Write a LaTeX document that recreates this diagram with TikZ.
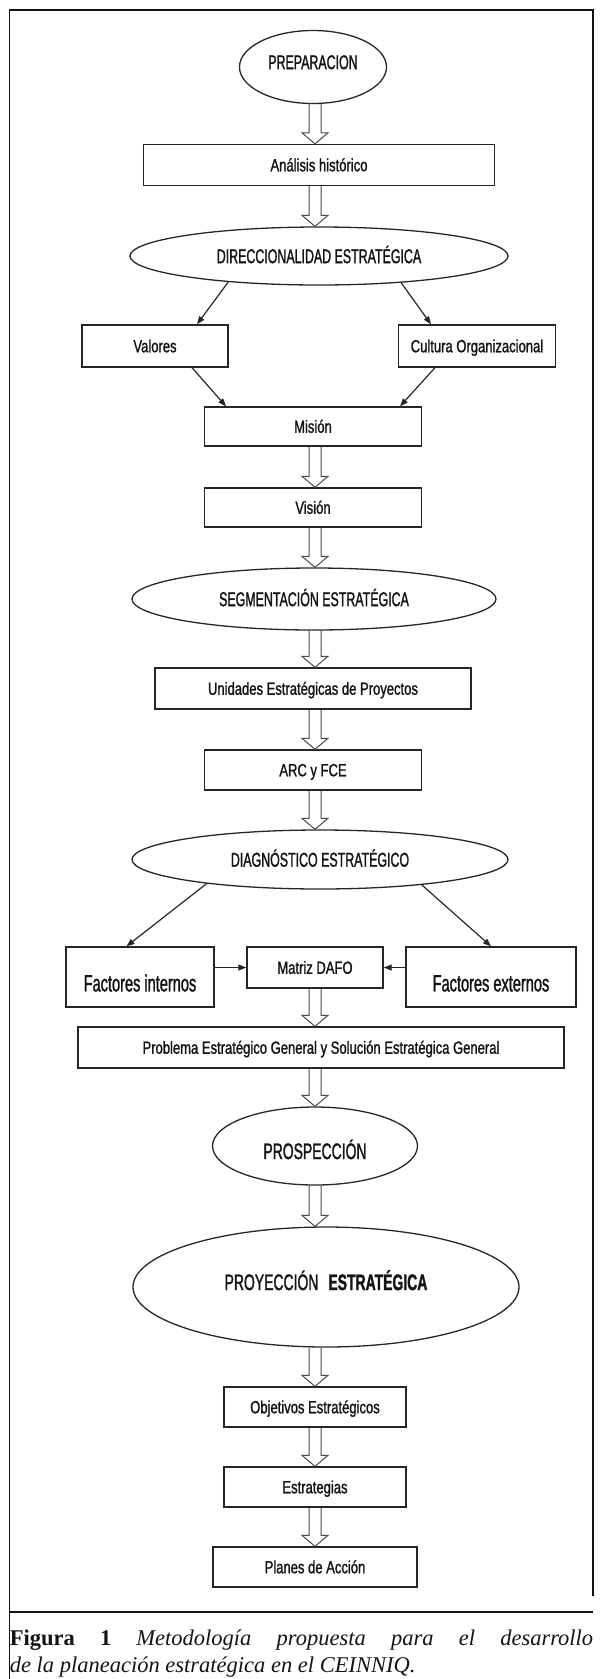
\documentclass[tikz,border=0pt]{standalone}
\usepackage{fontspec}
\setmainfont{Liberation Serif}
\newfontfamily\narrowfont[FakeStretch=0.74, FakeBold=1.3]{Liberation Sans}
\newfontfamily\condfont[FakeStretch=0.62, FakeBold=1.3]{Liberation Sans}
\usepackage{xcolor}
\usetikzlibrary{shapes.geometric, arrows.meta, calc}
\definecolor{flowink}{HTML}{141414}
\definecolor{flowline}{HTML}{262626}
\definecolor{flowmuted}{HTML}{4A4A4A}

\begin{document}
\begin{tikzpicture}[x=1pt, y=-1pt, >={Triangle[length=8pt, width=6pt]},
    every node/.style={flowink, inner sep=0pt},
    procbox/.style={draw=flowline, line width=1.4pt, rectangle,
      text height=12.5pt, text depth=0pt,
      font=\narrowfont\fontsize{17.6}{20}\selectfont},
    phase/.style={draw=flowline, line width=1.3pt, ellipse,
      text height=14.3pt, text depth=0pt,
      font=\condfont\fontsize{20}{24}\selectfont},
    bigphase/.style={phase, text height=16.1pt,
      font=\condfont\fontsize{22.5}{26}\selectfont},
    factorbox/.style={procbox, text height=28.8pt,
      font=\condfont\fontsize{23.5}{27}\selectfont},
    link/.style={draw=flowline, line width=1.2pt, ->},
    hollow/.style={draw=flowmuted, line width=1pt, line join=miter}]

  \useasboundingbox (0,0) rectangle (601,1679);

  %% 空心的粗箭頭: 沿著中軸 (eje) 從上一個節點的底邊畫到下一個節點的頂邊
  \coordinate (eje) at (315,0);
  \newcommand{\hollowdown}[2]{%
    \draw[hollow] ($(#1.south -| eje)+(-6,0)$) -- ($(#2.north -| eje)+(-6,-11)$)
      -- ++(-7,0) -- (#2.north -| eje) -- ++(13,-11) -- ++(-7,0)
      -- ($(#1.south -| eje)+(6,0)$);
  }

  %% ---- 外框 ----
  \draw[flowink, line width=1.5pt] (593,1596) -- (593,10) -- (9.6,10) -- (9.6,1679);

  %% ---- 準備、歷史分析、戰略方向 ----
  \node[phase, minimum width=147, minimum height=73, text depth=10pt] (prep) at (313,67) {PREPARACION};
  \node[procbox, minimum width=351, minimum height=41] (anal) at (319,165) {Análisis histórico};
  \node[phase, minimum width=378, minimum height=58] (dir) at (319,256) {DIRECCIONALIDAD ESTRATÉGICA};
  \node[procbox, minimum width=146, minimum height=42] (val) at (155,346) {Valores};
  \node[procbox, minimum width=157, minimum height=42] (cult) at (477,346) {Cultura Organizacional};
  \node[procbox, minimum width=217, minimum height=39] (mis) at (313,426.5) {Misión};
  \node[procbox, minimum width=217, minimum height=39] (vis) at (313,507.5) {Visión};

  \hollowdown{prep}{anal}
  \hollowdown{anal}{dir}
  \draw[link] (dir.196) -- ($(val.north)+(42,0)$);
  \draw[link] (dir.342) -- ($(cult.north)+(-46,0)$);
  \draw[link] ($(val.south)+(37,0)$) -- ($(mis.north)+(-87,0)$);
  \draw[link] ($(cult.south)+(-42,0)$) -- ($(mis.north)+(87,0)$);
  \hollowdown{mis}{vis}

  %% ---- 戰略分段 ----
  \node[phase, minimum width=364, minimum height=62] (seg) at (314,599) {SEGMENTACIÓN ESTRATÉGICA};
  \node[procbox, minimum width=316, minimum height=41] (uni) at (313,688.5) {Unidades Estratégicas de Proyectos};
  \node[procbox, minimum width=217, minimum height=40] (arc) at (313,770) {ARC y FCE};

  \hollowdown{vis}{seg}
  \hollowdown{seg}{uni}
  \hollowdown{uni}{arc}

  %% ---- 戰略診斷: 內外因素匯入 DAFO ----
  \node[phase, minimum width=376, minimum height=59] (diag) at (320,859.5) {DIAGNÓSTICO ESTRATÉGICO};
  \node[factorbox, minimum width=148, minimum height=60] (fint) at (140,977) {Factores internos};
  \node[procbox, minimum width=136, minimum height=41] (dafo) at (315,967.5) {Matriz DAFO};
  \node[factorbox, minimum width=170, minimum height=60] (fext) at (491,977) {Factores externos};
  \node[procbox, minimum width=486, minimum height=41] (prob) at (321,1047.5)
    {Problema Estratégico General y Solución Estratégica General};

  \hollowdown{arc}{diag}
  \draw[link] (diag.192) -- ($(fint.north)+(-13.5,0)$);
  \draw[link] (diag.346) -- (fext.north);
  \draw[link] (fint.east |- dafo.west) -- (dafo.west);
  \draw[link] (fext.west |- dafo.east) -- (dafo.east);
  \hollowdown{dafo}{prob}

  %% ---- 展望與戰略投射 ----
  \node[bigphase, minimum width=205, minimum height=78, text height=26.1pt] (prosp) at (315,1146) {PROSPECCIÓN};
  \node[bigphase, minimum width=386, minimum height=120, text depth=10pt] (proy) at (326,1287)
    {PROYECCIÓN\hspace{10pt}\textbf{ESTRATÉGICA}};
  \node[procbox, minimum width=182, minimum height=40] (obj) at (315,1407) {Objetivos Estratégicos};
  \node[procbox, minimum width=182, minimum height=40] (estr) at (315,1487) {Estrategias};
  \node[procbox, minimum width=204, minimum height=40] (plan) at (315,1567) {Planes de Acción};

  \hollowdown{prob}{prosp}
  \hollowdown{prosp}{proy}
  \hollowdown{proy}{obj}
  \hollowdown{obj}{estr}
  \hollowdown{estr}{plan}

  %% ---- 圖說 ----
  \draw[flowink, line width=1.4pt] (9.6,1612) -- (593,1612);
  \node[anchor=base west, font=\fontsize{22.5}{27}\selectfont] (cap1) at (9.6,1645)
    {\makebox[583.4pt][s]{\textbf{Figura 1} \textit{Metodología propuesta para el desarrollo}}};
  \node[anchor=base west, font=\fontsize{22.5}{27}\selectfont] (cap2) at (9.6,1672)
    {\textit{de la planeación estratégica en el CEINNIQ.}};

\end{tikzpicture}
\end{document}
